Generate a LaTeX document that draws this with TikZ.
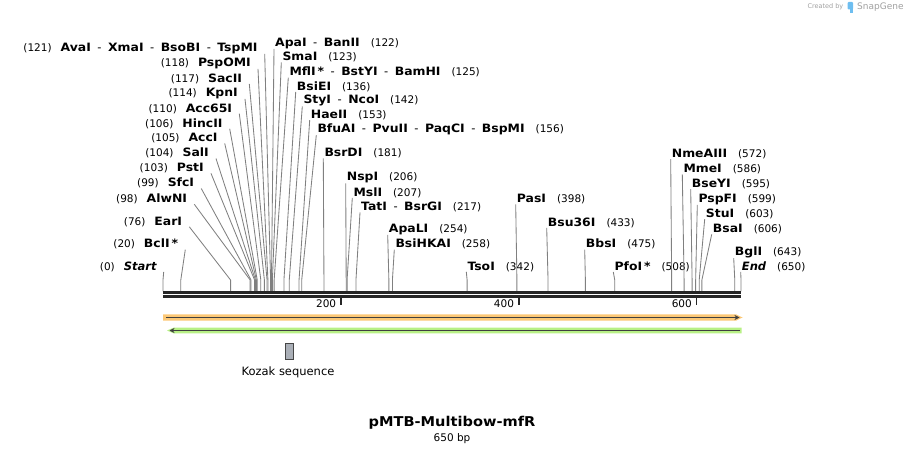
\documentclass[tikz,border=0pt]{standalone}
\usepackage{fontspec}
\setmainfont{DejaVu Sans}[BoldFeatures={FakeStretch=1.08}]
\usetikzlibrary{arrows.meta}

\definecolor{seqdark}{RGB}{38,38,38}
\definecolor{cutgray}{RGB}{128,128,128}
\definecolor{featorange}{RGB}{252,200,118}
\definecolor{featgreen}{RGB}{184,240,134}
\definecolor{arrowdark}{RGB}{64,64,64}
\definecolor{kozakfill}{RGB}{170,175,183}
\definecolor{kozakline}{RGB}{70,70,70}
\definecolor{snapgray}{RGB}{160,160,160}
\definecolor{snapblue}{RGB}{110,190,240}

\newcommand{\es}{\mdseries\hspace{6.5pt}-\hspace{6.5pt}\bfseries}
\newcommand{\bpx}[1]{163+#1*0.88923}
\newcommand{\enzfont}{\fontsize{11.5}{13}\selectfont\bfseries}

\tikzset{
  enzleft/.style={anchor=east, inner xsep=7pt, inner ysep=0pt,
    font=\fontsize{10.5}{12}\selectfont},
  enzright/.style={anchor=west, inner xsep=1pt, inner ysep=0pt,
    font=\fontsize{10.5}{12}\selectfont},
  cutline/.style={cutgray, line width=0.85pt},
  seqline/.style={seqdark, line width=2.6pt},
  scaletick/.style={seqdark, line width=1.6pt},
  scalelabel/.style={anchor=east, inner sep=0pt, font=\fontsize{10.5}{12}\selectfont},
  featarrow/.style={arrowdark, line width=1.5pt},
  kozakbox/.style={draw=kozakline, fill=kozakfill, line width=0.9pt,
    minimum width=8.7pt, minimum height=16.7pt, inner sep=0pt},
}

\begin{document}
\begin{tikzpicture}[x=1pt, y=-1pt]
    \useasboundingbox (0,0) rectangle (905,454);
    % enzymes to the left of their sites
    \foreach \num/\name/\xr/\yc [count=\i] in {
        121/{AvaI\es XmaI\es BsoBI\es TspMI}/257.7/48.3,
        118/PspOMI/251/63.3, 117/SacII/242.3/78.7, 114/KpnI/238/93.3,
        110/Acc65I/232.3/108.5, 106/HincII/222.7/123.5, 105/AccI/217.7/138.3,
        104/SalI/209/153.3, 103/PstI/204/168.3, 99/SfcI/194.3/183.3,
        98/AlwNI/187.3/199, 76/EarI/182.3/221.7, 20/{BclI\,*}/178.3/244.3,
        0/{\itshape Start}/156.7/266.7} {
        \node[enzleft] (l\i) at (\xr+7,\yc) {(\num)\hspace{9pt}{\enzfont\name}};
        \coordinate (lt\i) at ({\bpx{\num}},280);
        \coordinate (lb\i) at ({\bpx{\num}},291.5);
        \draw[cutline] (l\i.south east) -- (lt\i) -- (lb\i);
    }
    % enzymes to the right of their sites
    \foreach \name/\num/\xl/\yc [count=\i] in {
        {ApaI\es BanII}/122/275/43.3, SmaI/123/282.3/57.3,
        {MflI\,*\es BstYI\es BamHI}/125/289.3/72.3, BsiEI/136/296.7/86.7,
        {StyI\es NcoI}/142/303.3/100.7, HaeII/153/310.7/115,
        {BfuAI\es PvuII\es PaqCI\es BspMI}/156/317.3/129.3,
        BsrDI/181/324.3/153.3, NspI/206/346.7/177.7, MslI/207/353.3/192.7,
        {TatI\es BsrGI}/217/361/207.3, ApaLI/254/388.7/229.3,
        BsiHKAI/258/395.3/244.3, TsoI/342/467.3/266.7, PasI/398/516.7/199.3,
        Bsu36I/433/547.7/222.7, BbsI/475/585.7/244.3, {PfoI\,*}/508/614.3/266.7,
        NmeAIII/572/671.7/154, MmeI/586/683.3/169.3, BseYI/595/691.7/184,
        PspFI/599/698.3/199.3, StuI/603/705.7/214, BsaI/606/712.7/229.3,
        BglI/643/734.7/252.3, {\itshape End}/650/741.7/266.7} {
        \node[enzright] (r\i) at (\xl-1,\yc) {{\enzfont\name}\hspace{11pt}(\num)};
        \coordinate (rt\i) at ({\bpx{\num}},280);
        \coordinate (rb\i) at ({\bpx{\num}},291.5);
        \draw[cutline] (r\i.south west) -- (rt\i) -- (rb\i);
    }
    % sequence and ruler
    \draw[seqline] (163,292.4) -- (741,292.4);
    \draw[seqline] (163,296.3) -- (741,296.3);
    \foreach \t in {200,400,600} {
        \coordinate (tk\t) at ({\bpx{\t}},297);
        \coordinate (tkend\t) at ({\bpx{\t}},305);
        \draw[scaletick] (tk\t) -- (tkend\t);
        \node[scalelabel] (tl\t) at ({\bpx{\t}-4.5},304) {\t};
    }
    % features
    \fill[featorange] (163,314.3) -- (736,314.3) -- (742.5,317.5)
        -- (736,320.7) -- (163,320.7) -- cycle;
    \draw[featarrow, -{Stealth[length=5pt, width=5pt]}] (166,317.5) -- (739.5,317.5);
    \fill[featgreen] (741.5,327.7) -- (173.5,327.7) -- (167,330.5)
        -- (173.5,333.3) -- (741.5,333.3) -- cycle;
    \draw[featarrow, {Stealth[length=5pt, width=5pt]}-] (169.5,330.5) -- (740,330.5);
    \node[kozakbox] (kozak) at (289.3,351.3) {};
    \node[font=\fontsize{11.5}{13}\selectfont] (kozaklabel) at (288,372.3) {Kozak sequence};
    % title
    \node[font=\fontsize{13.5}{15}\selectfont\bfseries] (title) at (452,423) {pMTB-Multibow-mfR};
    \node[font=\fontsize{10.5}{12}\selectfont] (length) at (452,439) {650 bp};
    % credit
    \node[snapgray, font=\fontsize{6.5}{7}\selectfont, anchor=east, inner sep=0pt] (created) at (843.5,7) {Created by};
    \fill[snapblue, rounded corners=1pt] (847.5,2) rectangle (853,9.5);
    \fill[snapblue] (849.5,9) rectangle (852.5,13.5);
    \node[snapgray, font=\fontsize{9}{10}\selectfont, anchor=west, inner sep=0pt] (snapgene) at (857,7) {SnapGene};
\end{tikzpicture}
\end{document}
